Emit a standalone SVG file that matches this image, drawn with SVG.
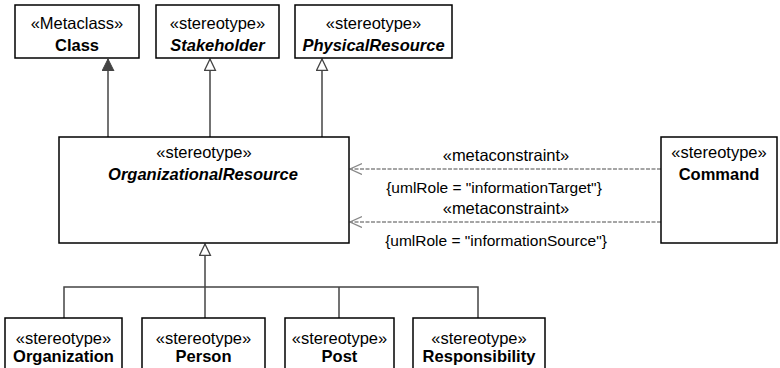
<svg xmlns="http://www.w3.org/2000/svg" width="780" height="368" viewBox="0 0 780 368">
<defs>
<style>
.box{fill:#fff;stroke:#000;stroke-width:1.5}
.t{font-family:"Liberation Sans",Arial,sans-serif;font-size:16.5px;text-anchor:middle;fill:#000}
.b{font-weight:bold}
.i{font-style:italic}
.c{font-size:15.5px}
.gen{fill:none;stroke:#444;stroke-width:1.5}
.dash{fill:none;stroke:#888;stroke-width:1.3;stroke-dasharray:4 1.5}
</style>
<marker id="filled" markerWidth="14" markerHeight="14" refX="12" refY="6" orient="auto" markerUnits="userSpaceOnUse">
<path d="M0,0 L12,6 L0,12 Z" fill="#444" stroke="#444" stroke-width="1"/>
</marker>
<marker id="hollow" markerWidth="14" markerHeight="14" refX="12" refY="6" orient="auto" markerUnits="userSpaceOnUse">
<path d="M0.5,0.5 L12,6 L0.5,11.5 Z" fill="#fff" stroke="#444" stroke-width="1.3"/>
</marker>
<marker id="open" markerWidth="14" markerHeight="14" refX="12" refY="6" orient="auto" markerUnits="userSpaceOnUse">
<path d="M0,0.5 L12,6 L0,11.5" fill="none" stroke="#888" stroke-width="1.3"/>
</marker>
</defs>
<g id="connectors">
<line class="gen" x1="108" y1="137" x2="108" y2="59" marker-end="url(#filled)"/>
<line class="gen" x1="210" y1="137" x2="210" y2="59" marker-end="url(#hollow)"/>
<line class="gen" x1="322" y1="137" x2="322" y2="59" marker-end="url(#hollow)"/>
<line class="gen" x1="205" y1="318" x2="205" y2="244" marker-end="url(#hollow)"/>
<polyline class="gen" points="64,318 64,287 478,287 478,318"/>
<line class="gen" x1="339" y1="287" x2="339" y2="318"/>
<line class="dash" x1="661" y1="169" x2="350" y2="169" marker-end="url(#open)"/>
<line class="dash" x1="661" y1="222" x2="350" y2="222" marker-end="url(#open)"/>
<text class="t" x="506" y="161">«metaconstraint»</text>
<text class="t c" x="494" y="193">{umlRole = "informationTarget"}</text>
<text class="t" x="506" y="214">«metaconstraint»</text>
<text class="t c" x="496" y="246">{umlRole = "informationSource"}</text>
</g>
<g id="Class">
<rect class="box" x="15" y="5" width="124" height="53"/>
<text class="t" x="77" y="29">«Metaclass»</text>
<text class="t b" x="77" y="51">Class</text>
</g>
<g id="Stakeholder">
<rect class="box" x="156" y="5" width="123" height="53"/>
<text class="t" x="217.5" y="29">«stereotype»</text>
<text class="t b i" x="217.5" y="51">Stakeholder</text>
</g>
<g id="PhysicalResource">
<rect class="box" x="295" y="5" width="157" height="53"/>
<text class="t" x="373.5" y="29">«stereotype»</text>
<text class="t b i" x="373.5" y="51">PhysicalResource</text>
</g>
<g id="OrganizationalResource">
<rect class="box" x="59" y="137" width="290" height="106"/>
<text class="t" x="204" y="158">«stereotype»</text>
<text class="t b i" x="203" y="180">OrganizationalResource</text>
</g>
<g id="Command">
<rect class="box" x="661" y="137" width="116" height="106"/>
<text class="t" x="719" y="158">«stereotype»</text>
<text class="t b" x="719" y="180">Command</text>
</g>
<g id="Organization">
<rect class="box" x="5" y="318" width="117" height="70"/>
<text class="t" x="63.5" y="344">«stereotype»</text>
<text class="t b" x="63.5" y="362">Organization</text>
</g>
<g id="Person">
<rect class="box" x="142" y="318" width="123" height="70"/>
<text class="t" x="203.5" y="344">«stereotype»</text>
<text class="t b" x="203.5" y="362">Person</text>
</g>
<g id="Post">
<rect class="box" x="285" y="318" width="109" height="70"/>
<text class="t" x="339.5" y="344">«stereotype»</text>
<text class="t b" x="339.5" y="362">Post</text>
</g>
<g id="Responsibility">
<rect class="box" x="413" y="318" width="132" height="70"/>
<text class="t" x="479" y="344">«stereotype»</text>
<text class="t b" x="479" y="362">Responsibility</text>
</g>
</svg>
